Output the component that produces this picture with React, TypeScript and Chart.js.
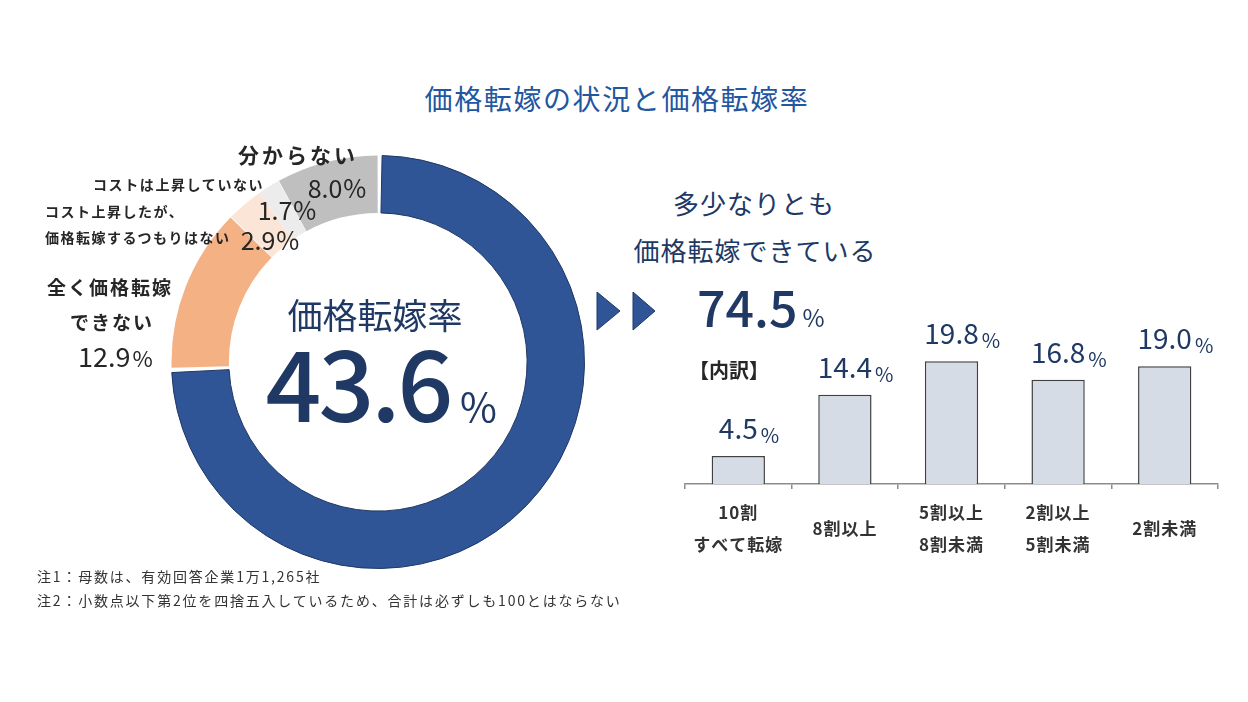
import React, { useEffect, useRef } from "react";
import { Chart, registerables } from "chart.js";

Chart.register(...registerables);

const FONT = '"Noto Sans CJK JP", "Noto Sans", sans-serif';

// ---- data ----
const title = "価格転嫁の状況と価格転嫁率";
const statusLabels = [
  "多少なりとも価格転嫁できている",
  "全く価格転嫁できない",
  "コスト上昇したが、価格転嫁するつもりはない",
  "コストは上昇していない",
  "分からない",
];
const statusValues = [74.5, 12.9, 2.9, 1.7, 8.0];
const statusColors = ["#2f5597", "#f4b183", "#fbe5d6", "#ececec", "#bfbfbf"];
const passRate = 43.6;
const breakdownLabels = [
  ["10割", "すべて転嫁"],
  ["8割以上"],
  ["5割以上", "8割未満"],
  ["2割以上", "5割未満"],
  ["2割未満"],
];
const breakdownValues = [4.5, 14.4, 19.8, 16.8, 19.0];
const yMax = 25;
const notes = [
  "注1：母数は、有効回答企業1万1,265社",
  "注2：小数点以下第2位を四捨五入しているため、合計は必ずしも100とはならない",
];

const NAVY = "#1f3864";
const DARK = "#262626";

type TProps = {
  x: number;
  y: number;
  fs: number;
  color?: string;
  weight?: number | string;
  ls?: number;
  align?: "left" | "center";
  mode?: "center" | "baseline";
  children: React.ReactNode;
};

function T({ x, y, fs, color = DARK, weight = 400, ls = 0, align = "left", mode = "center", children }: TProps) {
  const top = mode === "center" ? y - 0.56 * fs : y - 0.936 * fs;
  return (
    <div
      style={{
        position: "absolute",
        left: x,
        top,
        fontSize: fs,
        lineHeight: `${fs}px`,
        fontFamily: FONT,
        fontWeight: weight as any,
        color,
        letterSpacing: ls,
        whiteSpace: "nowrap",
        transform: align === "center" ? "translateX(-50%)" : undefined,
      }}
    >
      {children}
    </div>
  );
}

function Pct({ value, x, baseline, fs, pfs, gap = 3, color = DARK, weight = 400, align = "left" }: {
  value: number; x: number; baseline: number; fs: number; pfs: number; gap?: number; color?: string; weight?: number; align?: "left" | "center";
}) {
  return (
    <T x={x} y={baseline} fs={fs} mode="baseline" color={color} weight={weight} align={align}>
      <span>{value.toFixed(1)}</span>
      <span style={{ fontSize: pfs, marginLeft: gap, fontWeight: 400 }}>%</span>
    </T>
  );
}

function Donut() {
  const ref = useRef<HTMLCanvasElement>(null);
  useEffect(() => {
    const chart = new Chart(ref.current!, {
      type: "doughnut",
      data: {
        labels: statusLabels,
        datasets: [
          {
            data: statusValues,
            backgroundColor: statusColors,
            borderColor: [NAVY, "#ffffff", "#ffffff", "#ffffff", "#ffffff"],
            borderWidth: [1, 0, 0, 0, 0],
            spacing: 3,
          } as any,
        ],
      },
      options: {
        responsive: false,
        animation: false,
        events: [],
        cutout: "72%",
        layout: { padding: 0 },
        plugins: { legend: { display: false }, tooltip: { enabled: false } },
      },
    });
    return () => chart.destroy();
  }, []);
  return (
    <canvas
      ref={ref}
      width={414}
      height={414}
      style={{ position: "absolute", left: 171, top: 155, width: 414, height: 414 }}
    />
  );
}

const barTextPlugin = {
  id: "barText",
  afterDatasetsDraw(chart: any) {
    const ctx = chart.ctx as CanvasRenderingContext2D;
    const meta = chart.getDatasetMeta(0);
    ctx.save();
    meta.data.forEach((bar: any, i: number) => {
      const v = breakdownValues[i].toFixed(1);
      (ctx as any).letterSpacing = "0px";
      ctx.font = `28px ${FONT}`;
      ctx.fillStyle = NAVY;
      ctx.textAlign = "center";
      ctx.textBaseline = "alphabetic";
      const w = ctx.measureText(v).width;
      ctx.fillText(v, bar.x, bar.y - 17);
      ctx.font = `20px ${FONT}`;
      ctx.textAlign = "left";
      ctx.fillText("%", bar.x + w / 2 + 3, bar.y - 13);
    });
    const xs = chart.scales.x;
    const bottom = chart.chartArea.bottom;
    ctx.font = `bold 17px ${FONT}`;
    (ctx as any).letterSpacing = "1px";
    ctx.fillStyle = "#333333";
    ctx.textAlign = "center";
    ctx.textBaseline = "middle";
    breakdownLabels.forEach((lines, i) => {
      const x = xs.getPixelForValue(i);
      const lh = 32;
      const cy = bottom + 45;
      lines.forEach((ln, j) => {
        ctx.fillText(ln, x, cy + (j - (lines.length - 1) / 2) * lh);
      });
    });
    ctx.restore();
  },
};

function Bars() {
  const ref = useRef<HTMLCanvasElement>(null);
  useEffect(() => {
    const chart = new Chart(ref.current!, {
      type: "bar",
      data: {
        labels: breakdownLabels.map((l) => l.join("")),
        datasets: [
          {
            data: breakdownValues,
            backgroundColor: "#d6dce5",
            borderColor: "#404040",
            borderWidth: 1.5,
            borderSkipped: "bottom",
            barPercentage: 0.5,
            categoryPercentage: 1,
          },
        ],
      },
      options: {
        responsive: false,
        animation: false,
        events: [],
        layout: { padding: { left: 25, right: 27, top: 29, bottom: 91 } },
        plugins: { legend: { display: false }, tooltip: { enabled: false } },
        scales: {
          x: {
            grid: {
              display: true,
              drawOnChartArea: false,
              drawTicks: true,
              tickLength: 5,
              offset: true,
              color: "#8c8c8c",
              lineWidth: 1.5,
            },
            border: { display: true, color: "#8c8c8c", width: 1.5 },
            ticks: { display: false },
          },
          y: { display: false, min: 0, max: yMax },
        },
      },
      plugins: [barTextPlugin],
    });
    return () => chart.destroy();
  }, []);
  return (
    <canvas
      ref={ref}
      width={585}
      height={280}
      style={{ position: "absolute", left: 660, top: 300, width: 585, height: 280 }}
    />
  );
}

export default function App() {
  return (
    <div
      style={{
        position: "absolute",
        left: 0,
        top: 0,
        width: 1248,
        height: 702,
        background: "#ffffff",
        overflow: "hidden",
        fontFamily: FONT,
      }}
    >
      <T x={617} y={100} fs={28} ls={1.6} color="#2356a0" align="center">{title}</T>

      <Donut />
      <Bars />

      {/* doughnut centre */}
      <T x={375} y={316} fs={35} color={NAVY} align="center">価格転嫁率</T>
      <T x={358} y={422} fs={98} ls={-3} color={NAVY} weight={500} mode="baseline" align="center">{passRate.toFixed(1)}</T>
      <T x={460} y={422} fs={40} color={NAVY} mode="baseline">%</T>

      {/* doughnut labels */}
      <T x={298} y={156} fs={21} ls={3} weight={600} align="center">{statusLabels[4]}</T>
      <Pct value={statusValues[4]} x={337} baseline={198} fs={25} pfs={25} gap={1} align="center" />
      <T x={93} y={185} fs={14} ls={1.6} weight={700}>{statusLabels[3]}</T>
      <Pct value={statusValues[3]} x={287} baseline={220} fs={25} pfs={25} gap={1} align="center" />
      <T x={45} y={212} fs={14} ls={1.5} weight={700}>コスト上昇したが、</T>
      <T x={45} y={238} fs={14} ls={1.5} weight={700}>価格転嫁するつもりはない</T>
      <Pct value={statusValues[2]} x={270} baseline={250} fs={25} pfs={25} gap={1} align="center" />
      <T x={110} y={288} fs={19} ls={2} weight={600} align="center">全く価格転嫁</T>
      <T x={112} y={323} fs={19} ls={2} weight={600} align="center">できない</T>
      <Pct value={statusValues[1]} x={78} baseline={367} fs={27} pfs={22} gap={2} />

      {/* right header */}
      <svg style={{ position: "absolute", left: 590, top: 285 }} width={80} height={50}>
        <polygon points="7,7 30,26 7,45" fill="#2f5597" stroke={NAVY} strokeWidth={1} />
        <polygon points="43,7 65,26 43,45" fill="#2f5597" stroke={NAVY} strokeWidth={1} />
      </svg>
      <T x={754} y={205} fs={26} ls={1} color="#203864" align="center">多少なりとも</T>
      <T x={755} y={252} fs={26} ls={1} color="#203864" align="center">価格転嫁できている</T>
      <Pct value={statusValues[0]} x={697} baseline={327} fs={50} pfs={24} gap={5} color={NAVY} weight={500} />
      <T x={729} y={371} fs={20} weight={700} align="center">【内訳】</T>

      {/* notes */}
      <T x={37} y={577} fs={14} ls={1.8} color="#333333">{notes[0]}</T>
      <T x={37} y={601} fs={14} ls={1.8} color="#333333">{notes[1]}</T>
    </div>
  );
}
